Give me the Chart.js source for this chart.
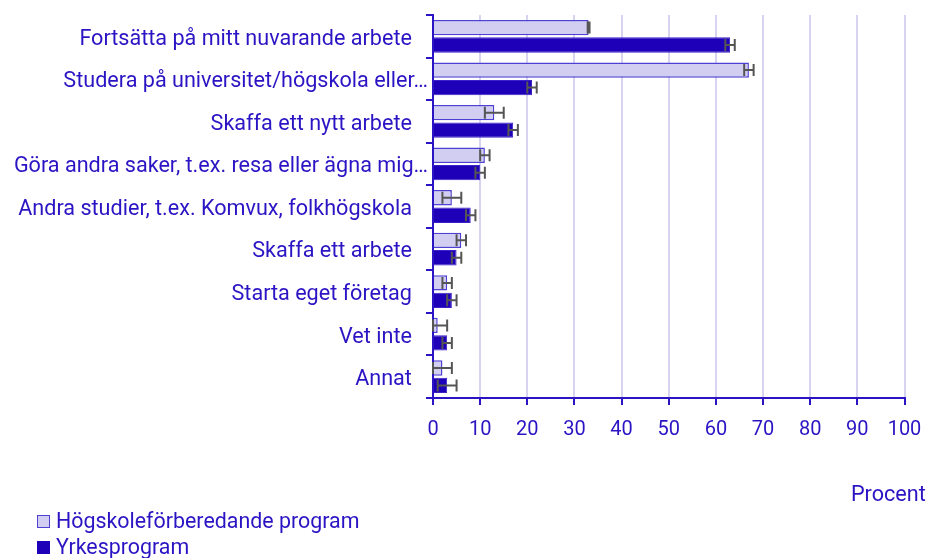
<!DOCTYPE html>
<html>
<head>
<meta charset="utf-8">
<script src="https://cdn.jsdelivr.net/npm/chart.js@4"></script>
<style>
  body { margin: 0; background: #fff; font-family: Roboto, sans-serif; }
  #wrap { position: relative; width: 929px; height: 558px; overflow: hidden; }
  #unit { position: absolute; left: 851px; top: 481px; font-size: 21.6px; color: #2a14c4; white-space: nowrap; }
  #legend { position: absolute; left: 37px; top: 508px; font-size: 21.4px; color: #2a14c4; }
  .item { height: 26px; line-height: 26px; display: flex; align-items: center; white-space: nowrap; }
  .box { width: 13px; height: 13px; margin-right: 6px; box-sizing: border-box; }
</style>
</head>
<body>
<div id="wrap">
  <canvas id="chart" width="929" height="558"></canvas>
  <div id="unit">Procent</div>
  <div id="legend"></div>
</div>
<script>
const categories = [
  "Fortsätta på mitt nuvarande arbete",
  "Studera på universitet/högskola eller…",
  "Skaffa ett nytt arbete",
  "Göra andra saker, t.ex. resa eller ägna mig…",
  "Andra studier, t.ex. Komvux, folkhögskola",
  "Skaffa ett arbete",
  "Starta eget företag",
  "Vet inte",
  "Annat"
];
const seriesNames = ["Högskoleförberedande program", "Yrkesprogram"];
const hogskola = [33, 67, 13, 11, 4, 6, 3, 1, 2];
const hogskolaLow = [32.8, 66, 11, 10, 2, 5, 2, 0, 0];
const hogskolaHigh = [33.2, 68, 15, 12, 6, 7, 4, 3, 4];
const yrkes = [63, 21, 17, 10, 8, 5, 4, 3, 3];
const yrkesLow = [62, 20, 16, 9, 7, 4, 3, 2, 1];
const yrkesHigh = [64, 22, 18, 11, 9, 6, 5, 4, 5];
const xTicks = [0, 10, 20, 30, 40, 50, 60, 70, 80, 90, 100];

const textColor = '#2a14c4';
const lightFill = '#d2cef2';
const lightBorder = '#4e40d2';
const darkFill = '#1f00b9';
const darkBorder = '#3a22c8';

const errorLows = [hogskolaLow, yrkesLow];
const errorHighs = [hogskolaHigh, yrkesHigh];

const errorBars = {
  id: 'errorBars',
  afterDatasetsDraw(chart) {
    const ctx = chart.ctx;
    const xs = chart.scales.x;
    ctx.save();
    ctx.strokeStyle = '#555';
    ctx.lineWidth = 2;
    chart.data.datasets.forEach((ds, di) => {
      const meta = chart.getDatasetMeta(di);
      meta.data.forEach((bar, i) => {
        const x1 = xs.getPixelForValue(errorLows[di][i]);
        const x2 = xs.getPixelForValue(errorHighs[di][i]);
        const y = bar.y;
        const h = 6;
        ctx.beginPath();
        ctx.moveTo(x1, y); ctx.lineTo(x2, y);
        ctx.moveTo(x1, y - h); ctx.lineTo(x1, y + h);
        ctx.moveTo(x2, y - h); ctx.lineTo(x2, y + h);
        ctx.stroke();
      });
    });
    ctx.restore();
  }
};

Chart.defaults.font.family = 'Roboto';
Chart.defaults.font.size = 21.6;
Chart.defaults.color = textColor;

new Chart(document.getElementById('chart'), {
  type: 'bar',
  data: {
    labels: categories,
    datasets: [
      { label: seriesNames[0], data: hogskola, backgroundColor: lightFill, borderColor: lightBorder, borderWidth: 1.5 },
      { label: seriesNames[1], data: yrkes, backgroundColor: darkFill, borderColor: darkBorder, borderWidth: 1 }
    ]
  },
  options: {
    indexAxis: 'y',
    responsive: false,
    animation: false,
    categoryPercentage: 0.82,
    barPercentage: 0.88,
    layout: { padding: { top: 15, right: 24.5, left: 0, bottom: 0 } },
    plugins: { legend: { display: false }, tooltip: { enabled: false } },
    scales: {
      x: {
        min: 0, max: 100,
        afterBuildTicks: s => { s.ticks = xTicks.map(v => ({ value: v })); },
        afterFit: s => { s.height = 160; s.paddingLeft = 0; s.paddingRight = 0; },
        grid: { color: '#d6d4f0', lineWidth: 2, tickLength: 7, tickColor: textColor, drawTicks: true },
        border: { color: textColor, width: 2 },
        ticks: { padding: 13, color: textColor, font: { size: 20 } }
      },
      y: {
        afterFit: s => { s.width = 433; s.paddingTop = 0; s.paddingBottom = 0; },
        grid: { offset: true, drawOnChartArea: false, tickLength: 7, tickColor: textColor, lineWidth: 2 },
        border: { color: textColor, width: 2 },
        ticks: {
          padding: -2, labelOffset: 3, color: textColor, autoSkip: false,
          // labels that end in an ellipsis sit closer to the axis
          callback: function (v) {
            const t = this.getLabelForValue(v);
            return t.endsWith('…') ? t : t + '   ';
          }
        }
      }
    }
  },
  plugins: [errorBars]
});

const legend = document.getElementById('legend');
[[lightFill, lightBorder], [darkFill, darkFill]].forEach((c, i) => {
  const row = document.createElement('div');
  row.className = 'item';
  const box = document.createElement('span');
  box.className = 'box';
  box.style.background = c[0];
  box.style.border = '1.5px solid ' + c[1];
  const txt = document.createElement('span');
  txt.textContent = seriesNames[i];
  row.appendChild(box);
  row.appendChild(txt);
  legend.appendChild(row);
});
</script>
</body>
</html>
